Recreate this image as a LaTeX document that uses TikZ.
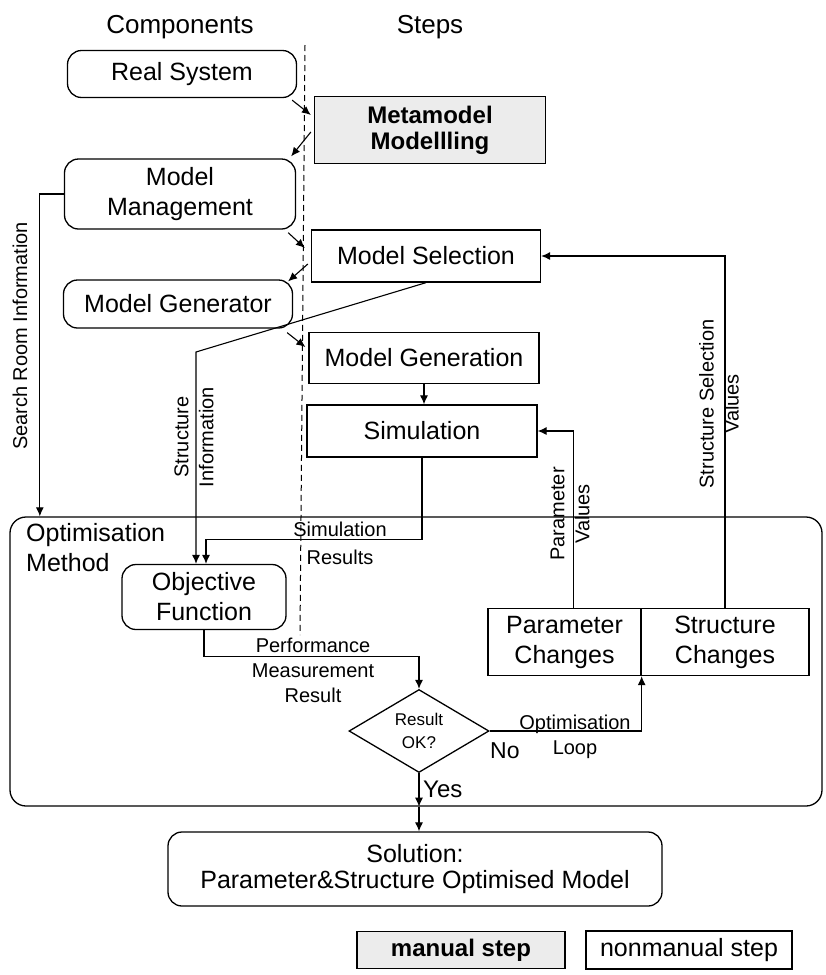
\documentclass[tikz,border=0pt]{standalone}
\usepackage{fontspec}
\setmainfont{Liberation Sans}
\usetikzlibrary{arrows.meta,shapes.geometric}
\newcommand\boxfont{\fontsize{25}{30}\selectfont}
\newcommand\boldboxfont{\fontsize{24}{28}\selectfont\bfseries}
\newcommand\lblfont{\fontsize{20}{25}\selectfont}
\newcommand\headfont{\fontsize{26}{30}\selectfont}
\tikzset{
  comp/.style={draw, line width=1.3pt, rounded corners=14pt, align=center, font=\boxfont, inner sep=0pt},
  stepbox/.style={draw, line width=1.3pt, align=center, font=\boxfont, inner sep=0pt},
  manualbox/.style={stepbox, fill=gray!15, font=\boldboxfont},
  arr/.style={-{Latex[length=9pt,width=8pt]}, line width=1.1pt},
  lbl/.style={font=\lblfont, align=center, inner sep=0pt}
}
\begin{document}
\begin{tikzpicture}[x=1pt,y=-1pt]
\useasboundingbox (0,0) rectangle (825,975);

\node[font=\headfont, anchor=base] (comphead) at (180,33) {Components};
\node[font=\headfont, anchor=base] (stephead) at (430,33) {Steps};
\draw[dash pattern=on 6pt off 4pt, line width=1pt] (305,45) -- (300,635);

\node[comp, minimum width=229, minimum height=47] (real) at (182,74) {Real System};
\node[manualbox, minimum width=231, minimum height=67] (meta) at (430,130) {Metamodel\\[-2pt]Modellling};
\node[comp, minimum width=231, minimum height=70] (mm) at (180,194) {Model\\Management};
\node[stepbox, minimum width=229, minimum height=52] (ms) at (426,256) {Model Selection};
\node[comp, minimum width=229, minimum height=48] (mg) at (178,304) {Model Generator};
\node[stepbox, minimum width=230, minimum height=51] (mgen) at (424,358) {Model Generation};
\node[stepbox, minimum width=230, minimum height=52] (sim) at (422,431) {Simulation};

\node[draw, line width=1.3pt, rounded corners=16pt, minimum width=812, minimum height=289] (opt) at (416,661.5) {};
\node[font=\boxfont, align=left, anchor=north west, inner sep=0pt] (optlbl) at (26,523) {Optimisation\\Method};
\node[comp, minimum width=164, minimum height=65] (obj) at (204,597) {Objective\\Function};
\node[draw, diamond, aspect=1.7, line width=1.3pt, minimum width=140, minimum height=83, inner sep=0pt, align=center, font=\fontsize{17}{23}\selectfont] (ok) at (419,731) {Result\\OK?};
\node[stepbox, minimum width=153, minimum height=67] (pc) at (564.5,642) {Parameter\\Changes};
\node[stepbox, minimum width=168, minimum height=67] (sc) at (725,642) {Structure\\Changes};

\node[comp, minimum width=494, minimum height=74] (sol) at (415,869) {Solution:\\[-4pt]Parameter\&Structure Optimised Model};
\node[manualbox, minimum width=208, minimum height=37] (manual) at (461,950) {manual step};
\node[stepbox, minimum width=206, minimum height=38] (nonmanual) at (689,950) {nonmanual step};

\foreach \s/\sx/\sy/\e/\ex/\ey in {real.south east/-5/2/meta.west/-3/-15, meta.west/-3/2/mm.north east/-5/-2, mm.south east/-8/3/ms.west/-6/-8, ms.west/-3/8/mg.north east/-5/2, mg.south east/-6/4/mgen.west/-3/-11}
  \draw[arr] ([shift={(\sx,\sy)}]\s) -- ([shift={(\ex,\ey)}]\e);

\draw[arr] (mgen.south) -- (mgen.south |- sim.north);
\draw[arr] (mm.west) -- ++(-24,0) coordinate (srbend) -- (srbend |- opt.north);
\coordinate (sibend) at (196,352);
\draw[arr] (ms.south) -- (sibend) -- ([xshift=-8]obj.north);
\draw[arr] (sim.south) -- ++(0,82) -| ([xshift=2]obj.north);
\draw[arr] (obj.south) -- ++(0,26) -| (ok.north);
\draw[arr] (ok.east) -| (pc.south east);
\draw[arr] ([xshift=9]pc.north) |- (sim.east);
\draw[arr] (sc.north) |- (ms.east);
\coordinate (optexit) at (ok.south |- opt.south);
\draw[arr] (ok.south) -- (optexit);
\draw[arr] (optexit) -- (optexit |- sol.north);

\node[lbl, rotate=90] (srlbl) at (20,336) {Search Room Information};
\node[lbl, rotate=90] (silbl) at (194,437) {Structure\\Information};
\node[lbl, rotate=90] (pvlbl) at (570,514) {Parameter\\Values};
\node[lbl, rotate=90] (sslbl) at (719,404) {Structure Selection\\Values};
\node[lbl] (simreslbl) at (340,543) {Simulation\\[3pt]Results};
\node[lbl] (perflbl) at (313,670) {Performance\\Measurement\\Result};
\node[lbl] (looplbl) at (575,737) {Optimisation\\Loop};
\node[font=\fontsize{23}{28}\selectfont, anchor=base west, inner sep=0pt] (nolbl) at (490,758) {No};
\node[font=\fontsize{24}{28}\selectfont, anchor=base west, inner sep=0pt] (yeslbl) at (423,797) {Yes};
\end{tikzpicture}
\end{document}
